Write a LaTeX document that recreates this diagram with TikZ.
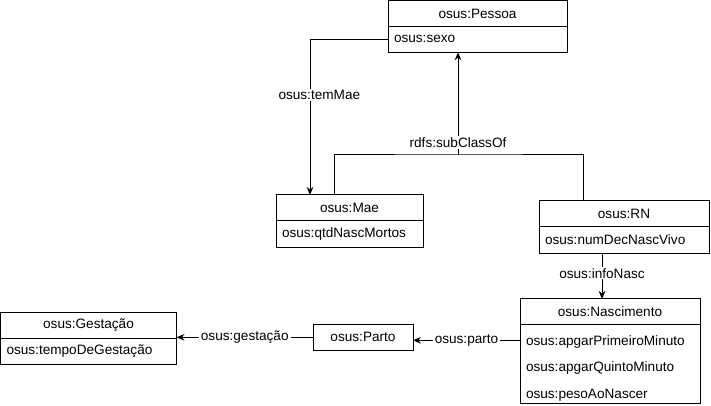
\documentclass[tikz,border=0pt]{standalone}
\usepackage{fontspec}
\setmainfont{Liberation Sans}
\usepackage{tikz}
\usetikzlibrary{positioning,calc,arrows.meta}

\begin{document}
\begin{tikzpicture}[x=0.75pt, y=-0.75pt, line width=0.75pt,
    font=\fontsize{10.2}{12}\selectfont,
    classhead/.style={draw, outer sep=0pt, inner sep=0pt,
        minimum width=#1*0.75pt, minimum height=19pt, anchor=north west},
    classbody/.style={draw, outer sep=0pt, inner xsep=4.5pt, inner ysep=0pt,
        text width=#1*0.75pt-9pt, align=left, minimum height=19.5pt},
    lbl/.style={fill=white, inner xsep=1.5pt, inner ysep=1pt},
    arr/.style={-{Stealth[length=6pt,width=5pt]}}]
    \useasboundingbox (0,0) rectangle (711,406);

    \node[classhead=179] (pessoa) at (388,1) {osus:Pessoa};
    \node[classbody=179, below=0pt of pessoa] (pessoaattr) {osus:sexo};
    \node[classhead=147] (mae) at (276,195) {osus:Mae};
    \node[classbody=147, below=0pt of mae, minimum height=20.5pt] (maeattr) {osus:qtdNascMortos};
    \node[classhead=170] (rn) at (539,201) {osus:RN};
    \node[classbody=170, below=0pt of rn, minimum height=20.5pt] (rnattr) {osus:numDecNascVivo};
    \node[classhead=180] (nasc) at (520,299) {osus:Nascimento};
    \node[classbody=180, below=0pt of nasc, minimum height=59.5pt, text height=13.5pt,
        font=\fontsize{10.2}{19.9}\selectfont] (nascattr)
        {osus:apgarPrimeiroMinuto\\osus:apgarQuintoMinuto\\osus:pesoAoNascer};
    \node[classhead=176, minimum height=19.5pt] (gest) at (0.5,312) {osus:Gestação};
    \node[classbody=176, below=0pt of gest] (gestattr) {osus:tempoDeGestação};
    \node[classhead=100, minimum height=20pt] (parto) at (313,324) {osus:Parto};

    \coordinate (sub) at (458,155);
    \coordinate (info) at ($(rnattr.south west)+(63,0)$);
    \coordinate (partoin) at ($(nascattr.north west)+(0,16)$);

    \draw[arr] (pessoaattr.west) -| ($(mae.north west)+(34,0)$)
        node[lbl, pos=0.68, xshift=7pt] {osus:temMae};
    \draw ($(mae.north west)+(58,0)$) |- (sub) -| ($(rn.north west)+(44,0)$);
    \draw[arr] (sub) -- (sub |- pessoaattr.south)
        node[lbl, pos=0.12] {rdfs:subClassOf};
    \draw[arr] (info) -- (info |- nasc.north) node[lbl, pos=0.43] {osus:infoNasc};
    \draw[arr] (partoin) -- (partoin -| parto.east) node[lbl, midway] {osus:parto};
    \draw[arr] (parto.west) -- (parto.west -| gest.east) node[lbl, midway] {osus:gestação};
\end{tikzpicture}
\end{document}
